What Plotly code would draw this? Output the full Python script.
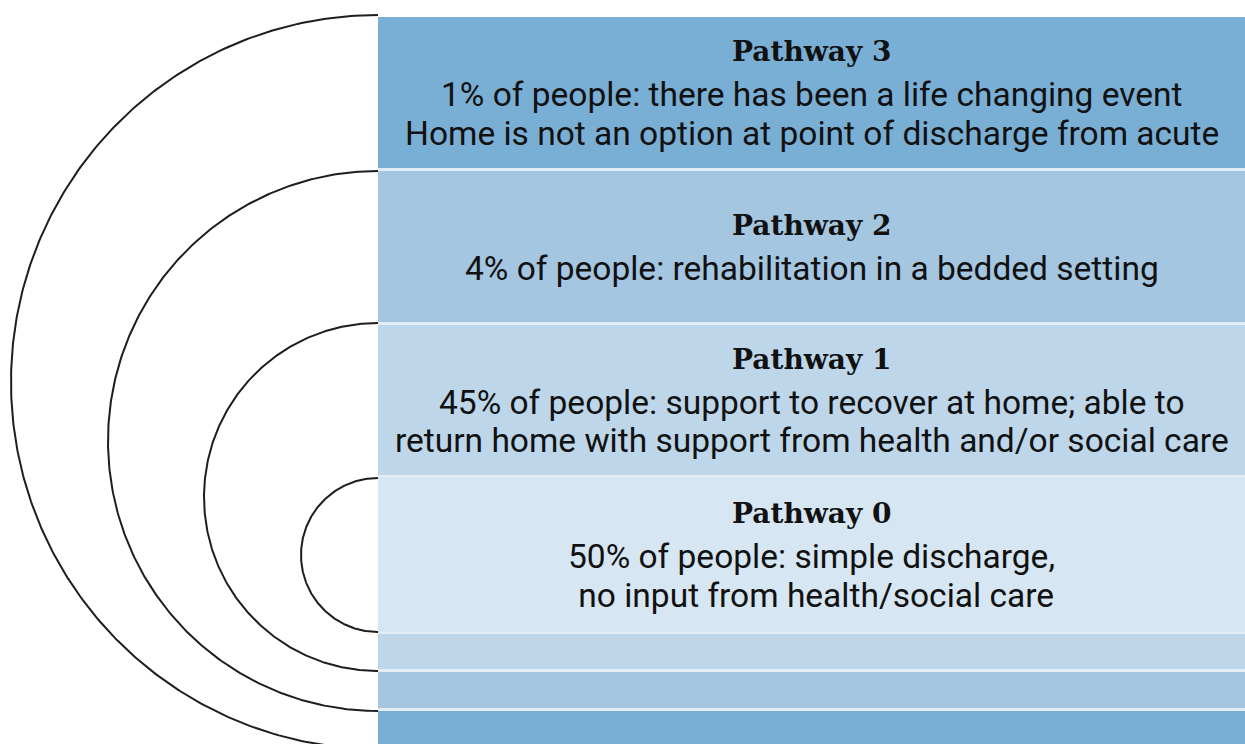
import numpy as np
import plotly.graph_objects as go

# ---- data ----
pathways = ["Pathway 3", "Pathway 2", "Pathway 1", "Pathway 0"]
shares = [1, 4, 45, 50]
descriptions = [
    ["there has been a life changing event", "Home is not an option at point of discharge from acute"],
    ["rehabilitation in a bedded setting"],
    ["support to recover at home; able to", "return home with support from health and/or social care"],
    ["simple discharge,", " no input from health/social care"],
]
colors = ["#7AAFD5", "#A4C6E1", "#BDD6E9", "#D6E6F2"]

# ---- layout constants (pixel space) ----
W, H = 1245, 744
X0 = 378
band_y = [(17, 168), (171, 322), (325, 475), (477, 632)]
strip_y = {2: (634, 669), 1: (672, 708), 0: (711, 750)}  # index into pathways
arc_geom = [(382, 367), (441, 270), (497, 174), (555, 77)]  # (cy, r)

fig = go.Figure()

# semicircle arcs
for (cy, r) in arc_geom:
    t = np.linspace(np.pi / 2, 3 * np.pi / 2, 300)
    fig.add_trace(go.Scatter(x=X0 + r * np.cos(t), y=cy - r * np.sin(t), mode="lines",
                             line=dict(color="#1e1e1e", width=2), hoverinfo="skip", showlegend=False))

shapes = [dict(type="rect", x0=X0, x1=W + 5, y0=band_y[0][0], y1=H + 5, fillcolor="#E2EDF6",
               line=dict(width=0), layer="below")]
for i, (y0, y1) in enumerate(band_y):
    shapes.append(dict(type="rect", x0=X0, x1=W + 5, y0=y0, y1=y1, fillcolor=colors[i],
                       line=dict(width=0), layer="below"))
for i, (y0, y1) in strip_y.items():
    shapes.append(dict(type="rect", x0=X0, x1=W + 5, y0=y0, y1=y1, fillcolor=colors[i],
                       line=dict(width=0), layer="below"))

annotations = []
xc = (X0 + W) / 2
title_gap = 43
line_gap = 38.5
for i, name in enumerate(pathways):
    lines = [f"{shares[i]}% of people: {descriptions[i][0]}"] + descriptions[i][1:]
    n = len(lines)
    block = title_gap + (n - 1) * line_gap
    y0, y1 = band_y[i]
    ytitle = (y0 + y1) / 2 - block / 2
    annotations.append(dict(x=xc, y=ytitle, text=f"<b>{name}</b>", showarrow=False,
                            xanchor="center", yanchor="middle",
                            font=dict(family="DejaVu Serif", size=28, color="#111111")))
    for k, ln in enumerate(lines):
        annotations.append(dict(x=xc, y=ytitle + title_gap + k * line_gap, text=ln, showarrow=False,
                                xanchor="center", yanchor="middle",
                                font=dict(family="Roboto", size=33.5, color="#111111")))

fig.update_layout(
    width=W, height=H, margin=dict(l=0, r=0, t=0, b=0),
    paper_bgcolor="white", plot_bgcolor="white",
    xaxis=dict(range=[0, W], visible=False, fixedrange=True),
    yaxis=dict(range=[H, 0], visible=False, fixedrange=True),
    shapes=shapes, annotations=annotations, showlegend=False,
)
fig.write_html(
    "out.html",
    config={"displayModeBar": False},
    post_script="document.body.style.margin='0';document.documentElement.style.overflow='hidden';document.body.style.overflow='hidden';",
)
